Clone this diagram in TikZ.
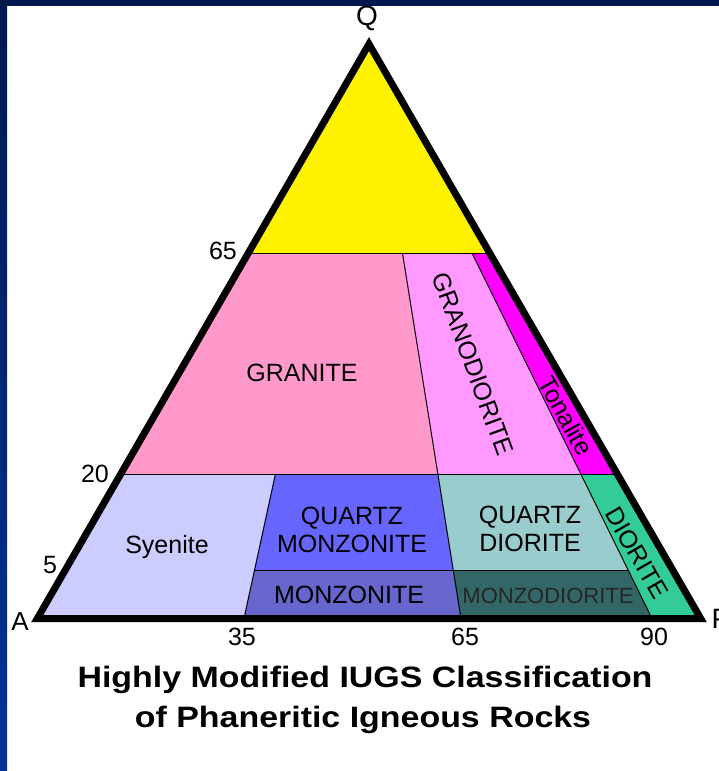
\documentclass[tikz,border=0pt]{standalone}
\usepackage{fontspec}
\setmainfont{Liberation Sans}
\usepackage{tikz}
\usetikzlibrary{calc}

\definecolor{framenavy}{HTML}{001A50}
\definecolor{frameblue}{HTML}{003399}
\definecolor{granite}{HTML}{FF99CC}
\definecolor{granodiorite}{HTML}{FF99FF}
\definecolor{tonalite}{HTML}{FF00FF}
\definecolor{syenite}{HTML}{CCCCFF}
\definecolor{qmonzonite}{HTML}{6666FF}
\definecolor{monzonite}{HTML}{6666CC}
\definecolor{qdiorite}{HTML}{99CCCC}
\definecolor{monzodiorite}{HTML}{336666}
\definecolor{diorite}{HTML}{33CC99}

\begin{document}
\begin{tikzpicture}[x=1pt, y=-1pt,
        rocklbl/.style={font=\fontsize{25}{28}\selectfont, inner sep=0pt},
        ticklbl/.style={font=\fontsize{25}{28}\selectfont, inner sep=0pt},
        vertexlbl/.style={font=\fontsize{28}{30}\selectfont, inner sep=0pt},
        titlelbl/.style={font=\bfseries\fontsize{29.5}{36}\selectfont, inner sep=0pt, anchor=base},
        divider/.style={draw=black, line width=1pt}]
        \useasboundingbox (0,0) rectangle (719,771);
        \fill[white] (0,0) rectangle (719,771);
        \shade[top color=framenavy, bottom color=frameblue] (0,0) rectangle (7,771);
        \fill[framenavy] (0,0) rectangle (719,6);

        \coordinate (Q) at (369,44);
        \coordinate (A) at (37.3,618.5);
        \coordinate (P) at (700.7,618.5);
        \coordinate (b35) at (244,618.5);
        \coordinate (b65) at (461,618.5);
        \coordinate (b90) at (652,618.5);
        \foreach \lev/\t in {65/0.364, 20/0.75, 5/0.916}
            \foreach \b in {A, b35, b65, b90, P}
                \coordinate (\b-\lev) at ($(Q)!\t!(\b)$);

        \fill[yellow] (Q) -- (A-65) -- (P-65) -- cycle;
        \fill[granite] (A-65) -- (b65-65) -- (b65-20) -- (A-20) -- cycle;
        \fill[granodiorite] (b65-65) -- (b90-65) -- (b90-20) -- (b65-20) -- cycle;
        \fill[tonalite] (b90-65) -- (P-65) -- (P-20) -- (b90-20) -- cycle;
        \fill[syenite] (A-20) -- (b35-20) -- (b35) -- (A) -- cycle;
        \fill[qmonzonite] (b35-20) -- (b65-20) -- (b65-5) -- (b35-5) -- cycle;
        \fill[monzonite] (b35-5) -- (b65-5) -- (b65) -- (b35) -- cycle;
        \fill[qdiorite] (b65-20) -- (b90-20) -- (b90-5) -- (b65-5) -- cycle;
        \fill[monzodiorite] (b65-5) -- (b90-5) -- (b90) -- (b65) -- cycle;
        \fill[diorite] (b90-20) -- (P-20) -- (P) -- (b90) -- cycle;

        \draw[divider] (A-65) -- (P-65);
        \draw[divider] (A-20) -- (P-20);
        \draw[divider] (b35-5) -- (b90-5);
        \draw[divider] (b35-20) -- (b35);
        \draw[divider] (b65-65) -- (b65);
        \draw[divider] (b90-65) -- (b90);
        \draw[line width=7pt] (Q) -- (A) -- (P) -- cycle;

        \node[rocklbl] (granitelbl) at (302,373) {GRANITE};
        \node[rocklbl, rotate=-70] (granodioritelbl) at (473,364) {GRANODIORITE};
        \node[rocklbl, rotate=-61] (tonalitelbl) at (566,416) {Tonalite};
        \node[rocklbl, anchor=base] (syenitelbl) at (167,553) {Syenite};
        \node[rocklbl, align=center] (qmonzonitelbl) at (352,530) {QUARTZ\\MONZONITE};
        \node[rocklbl] (monzonitelbl) at (349,595) {MONZONITE};
        \node[rocklbl, align=center] (qdioritelbl) at (530,528.5) {QUARTZ\\DIORITE};
        \node[rocklbl, font=\fontsize{22}{24}\selectfont, text=black!85] (monzodioritelbl) at (548,596) {MONZODIORITE};
        \node[rocklbl, rotate=-60] (dioritelbl) at (637,553) {DIORITE};

        \node[vertexlbl] (Qlbl) at (367,18) {Q};
        \node[vertexlbl, font=\fontsize{26}{28}\selectfont] (Albl) at (20,622) {A};
        \node[vertexlbl] (Plbl) at (721,619) {P};

        \node[ticklbl] (tick65q) at (223,251) {65};
        \node[ticklbl] (tick20q) at (95,474) {20};
        \node[ticklbl] (tick5q) at (50,565) {5};
        \node[ticklbl] (tick35) at (242,637) {35};
        \node[ticklbl] (tick65) at (465,637) {65};
        \node[ticklbl] (tick90) at (654,637) {90};

        \node[titlelbl] (title) at (365,687) {\scalebox{1.15}[1]{Highly Modified IUGS Classification}};
        \node[titlelbl] (subtitle) at (363,727) {\scalebox{1.15}[1]{of Phaneritic Igneous Rocks}};
    \end{tikzpicture}
\end{document}
